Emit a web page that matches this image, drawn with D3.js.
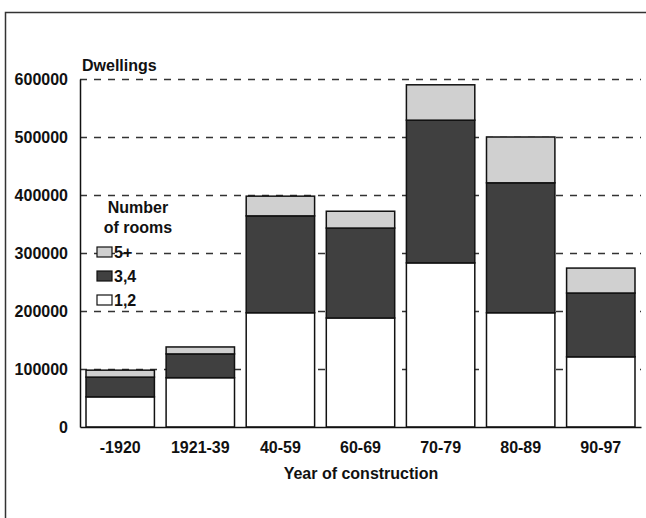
<!DOCTYPE html>
<html>
<head>
<meta charset="utf-8">
<script src="https://cdn.jsdelivr.net/npm/d3@7"></script>
<style>
	body { margin: 0; background: #fff; }
	text { font-family: "Liberation Sans", Arial, sans-serif; font-weight: bold; fill: #111; }
</style>
</head>
<body>
<div id="chart"></div>
<script>
var years = ["-1920", "1921-39", "40-59", "60-69", "70-79", "80-89", "90-97"];
var rooms12 = [52000, 85000, 197000, 188000, 283000, 197000, 121000];
var rooms34 = [34000, 41000, 167000, 155000, 246000, 224000, 110000];
var rooms5 = [12000, 12000, 34000, 29000, 61000, 79000, 43000];
var yTicks = [0, 100000, 200000, 300000, 400000, 500000, 600000];
var keys = ["r12", "r34", "r5"];
var legendLabels = ["5+", "3,4", "1,2"];

var fills = { r12: "#ffffff", r34: "#404040", r5: "#d0d0d0" };

var rows = years.map(function(y, i) {
	return { year: y, r12: rooms12[i], r34: rooms34[i], r5: rooms5[i] };
});

var svg = d3.select("#chart").append("svg")
	.attr("width", 646)
	.attr("height", 518);

// frame of the scanned figure
svg.append("path")
	.attr("d", "M5.5,530 V12.5 H660")
	.attr("fill", "none")
	.attr("stroke", "#333")
	.attr("stroke-width", 1.5);

var x = d3.scaleBand()
	.domain(years)
	.range([80, 641])
	.paddingInner(0.146)
	.paddingOuter(0.075);

var y = d3.scaleLinear()
	.domain([0, 600000])
	.range([427, 79]);

// dashed grid
svg.append("g").selectAll("line")
	.data(yTicks.slice(1))
	.enter()
	.append("line")
	.attr("x1", 80)
	.attr("x2", 641)
	.attr("y1", function(d) { return Math.round(y(d)) + 0.5; })
	.attr("y2", function(d) { return Math.round(y(d)) + 0.5; })
	.attr("stroke", "#333")
	.attr("stroke-width", 1.5)
	.attr("stroke-dasharray", "7,7");

// bars
var stack = d3.stack().keys(keys)(rows);

svg.append("g").selectAll("g")
	.data(stack)
	.enter()
	.append("g")
	.attr("fill", function(d) { return fills[d.key]; })
	.selectAll("rect")
	.data(function(d) { return d; })
	.enter()
	.append("rect")
	.attr("x", function(d) { return x(d.data.year); })
	.attr("y", function(d) { return y(d[1]); })
	.attr("width", x.bandwidth())
	.attr("height", function(d) { return y(d[0]) - y(d[1]); })
	.attr("stroke", "#111")
	.attr("stroke-width", 1.5);

// axes
var yAxis = d3.axisLeft(y).tickValues(yTicks).tickSize(0).tickPadding(12).tickFormat(d3.format("d"));
var gy = svg.append("g")
	.attr("transform", "translate(80,0)")
	.call(yAxis);
gy.select(".domain").attr("stroke", "#111").attr("stroke-width", 1.5);
gy.selectAll("text").style("font-size", "16px");

var xAxis = d3.axisBottom(x).tickSize(0).tickPadding(15);
var gx = svg.append("g")
	.attr("transform", "translate(0,427)")
	.call(xAxis);
gx.select(".domain").attr("stroke", "#111").attr("stroke-width", 1.5);
gx.selectAll("text").style("font-size", "16px");

svg.append("text")
	.attr("x", 82)
	.attr("y", 71)
	.style("font-size", "16px")
	.text("Dwellings");

svg.append("text")
	.attr("x", 361)
	.attr("y", 479)
	.attr("text-anchor", "middle")
	.style("font-size", "16px")
	.text("Year of construction");

// legend
var legend = svg.append("g");
legend.append("text")
	.attr("x", 138).attr("y", 213)
	.attr("text-anchor", "middle")
	.style("font-size", "16px")
	.text("Number");
legend.append("text")
	.attr("x", 138).attr("y", 233)
	.attr("text-anchor", "middle")
	.style("font-size", "16px")
	.text("of rooms");

var legendKeys = ["r5", "r34", "r12"];
var items = legend.selectAll(".item")
	.data(legendKeys)
	.enter()
	.append("g")
	.attr("class", "item")
	.attr("transform", function(d, i) { return "translate(97," + (247 + i * 24) + ")"; });

items.append("rect")
	.attr("width", 15)
	.attr("height", 10)
	.attr("fill", function(d) { return fills[d]; })
	.attr("stroke", "#111")
	.attr("stroke-width", 1.2);

items.append("text")
	.attr("x", 17)
	.attr("y", 11)
	.style("font-size", "16px")
	.text(function(d, i) { return legendLabels[i]; });
</script>
</body>
</html>
